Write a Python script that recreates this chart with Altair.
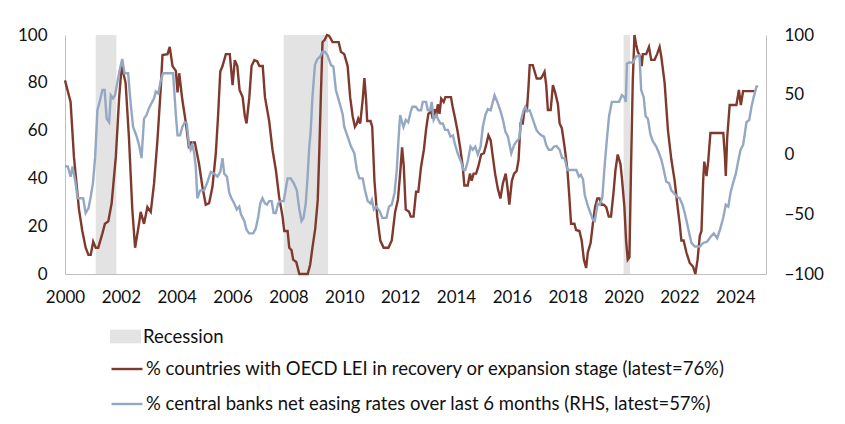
import altair as alt
import pandas as pd

# ---------------- data ----------------
brown_t = [2000.00, 2000.20, 2000.32, 2000.50, 2000.62, 2000.74, 2000.84, 2000.92, 2001.01, 2001.10,
           2001.19, 2001.34, 2001.43, 2001.55, 2001.67, 2001.82, 2001.94, 2002.03, 2002.17, 2002.29,
           2002.41, 2002.51, 2002.65, 2002.71, 2002.83, 2002.95, 2003.07, 2003.19, 2003.31, 2003.43,
           2003.49, 2003.67, 2003.75, 2003.85, 2003.97, 2004.03, 2004.09, 2004.20, 2004.33, 2004.44,
           2004.50, 2004.65, 2004.80, 2004.92, 2005.04, 2005.16, 2005.28, 2005.40, 2005.48, 2005.56,
           2005.64, 2005.76, 2005.90, 2006.00, 2006.08, 2006.17, 2006.25, 2006.36, 2006.44, 2006.50,
           2006.60, 2006.68, 2006.78, 2006.88, 2006.96, 2007.08, 2007.16, 2007.31, 2007.43, 2007.55,
           2007.67, 2007.79, 2007.85, 2007.97, 2008.03, 2008.11, 2008.17, 2008.28, 2008.39, 2008.69,
           2008.78, 2008.86, 2008.96, 2009.05, 2009.10, 2009.16, 2009.22, 2009.30, 2009.38, 2009.46,
           2009.58, 2009.80, 2009.88, 2010.00, 2010.12, 2010.21, 2010.30, 2010.38, 2010.45, 2010.50,
           2010.57, 2010.66, 2010.72, 2010.78, 2010.82, 2010.94, 2011.00, 2011.08, 2011.18, 2011.29,
           2011.41, 2011.58, 2011.70, 2011.82, 2011.92, 2012.00, 2012.07, 2012.13, 2012.20, 2012.32,
           2012.38, 2012.48, 2012.57, 2012.65, 2012.75, 2012.85, 2012.93, 2013.01, 2013.11, 2013.17,
           2013.23, 2013.29, 2013.35, 2013.41, 2013.47, 2013.56, 2013.62, 2013.82, 2013.88, 2013.97,
           2014.06, 2014.16, 2014.24, 2014.30, 2014.42, 2014.50, 2014.56, 2014.63, 2014.72, 2014.80,
           2014.90, 2015.00, 2015.08, 2015.16, 2015.24, 2015.32, 2015.40, 2015.50, 2015.59, 2015.68,
           2015.78, 2015.84, 2015.91, 2016.00, 2016.08, 2016.17, 2016.24, 2016.31, 2016.39, 2016.45,
           2016.54, 2016.60, 2016.64, 2016.75, 2016.89, 2017.03, 2017.08, 2017.17, 2017.23, 2017.29,
           2017.39, 2017.47, 2017.55, 2017.65, 2017.71, 2017.79, 2017.89, 2017.99, 2018.06, 2018.12,
           2018.24, 2018.30, 2018.42, 2018.50, 2018.58, 2018.66, 2018.72, 2018.82, 2018.90, 2018.98,
           2019.06, 2019.14, 2019.22, 2019.29, 2019.38, 2019.47, 2019.55, 2019.64, 2019.71, 2019.79,
           2019.89, 2019.95, 2020.03, 2020.09, 2020.15, 2020.21, 2020.27, 2020.33, 2020.39, 2020.45,
           2020.51, 2020.60, 2020.65, 2020.69, 2020.81, 2020.91, 2020.99, 2021.11, 2021.20, 2021.29,
           2021.35, 2021.47, 2021.59, 2021.71, 2021.83, 2021.92, 2022.01, 2022.07, 2022.15, 2022.25,
           2022.37, 2022.49, 2022.57, 2022.65, 2022.73, 2022.79, 2022.85, 2022.89, 2022.97, 2023.03,
           2023.11, 2023.57, 2023.63, 2023.66, 2023.71, 2023.80, 2024.04, 2024.13, 2024.20, 2024.28,
           2024.73]
brown_v = [81, 72, 49, 27, 18, 11, 8, 8, 13.5, 11,
           11, 17, 21, 22, 29.6, 49, 74, 87, 80, 57,
           27, 11, 21, 26, 21, 28, 26, 38, 56, 78,
           91.6, 92, 95, 87, 85, 76, 84, 73, 63, 52.6,
           55, 55, 46, 36.5, 29, 29.6, 36.5, 50.5, 66, 84.7,
           87, 92, 92, 79, 89.5, 87, 77, 74, 66, 63,
           74, 87, 89.5, 89, 87, 87, 74, 64, 52, 43.5,
           32, 24, 18, 18, 11, 10, 6, 5, 0, 0,
           4, 11, 19, 31, 49, 74, 97, 98, 100, 99.6,
           97, 97, 93, 92, 87, 74, 66, 61.6, 63, 65,
           63, 73, 82, 73, 64, 64, 61.6, 39, 24, 14,
           11, 11, 14, 26, 31, 42, 53, 45, 27, 26,
           24, 24, 34.4, 34.4, 45, 52, 60.6, 67, 68, 65,
           69, 66, 71, 67, 73.4, 72, 74, 74, 70, 65,
           59.5, 52, 45, 37, 37, 42, 39, 42, 42, 45,
           50, 50.6, 54, 58, 56, 49, 42, 35.6, 31.6, 38,
           42, 36.5, 29, 39, 42, 43, 47.7, 63, 63, 68.6,
           68.6, 79, 87.4, 87.4, 81.8, 81.8, 82.5, 84.6, 79, 68.6,
           68.6, 79, 76, 71, 63, 61, 53, 43.5, 32, 21,
           21, 18.4, 18, 14, 6, 2.5, 9, 13, 21, 28,
           31.6, 31.6, 29, 29, 28, 24, 24, 34, 43.5, 50,
           46, 39, 28, 14, 6, 7, 46, 81, 100, 96,
           93, 91, 87, 92, 92, 95, 89.6, 89.6, 92, 95,
           91, 80, 60, 48, 39, 29.6, 21, 14, 14, 9,
           4.6, 3, 0, 6, 16, 18, 39, 47, 41, 47,
           59, 59, 49, 41, 57, 70.7, 70.7, 77, 70.7, 76.5,
           76.5]

blue_t = [2000.00, 2000.10, 2000.20, 2000.27, 2000.37, 2000.45, 2000.65, 2000.74, 2000.84, 2000.92,
          2001.00, 2001.08, 2001.16, 2001.24, 2001.34, 2001.42, 2001.49, 2001.58, 2001.64, 2001.72,
          2001.79, 2001.87, 2001.97, 2002.05, 2002.13, 2002.26, 2002.35, 2002.44, 2002.56, 2002.65,
          2002.74, 2002.83, 2002.92, 2003.01, 2003.10, 2003.19, 2003.25, 2003.34, 2003.43, 2003.51,
          2003.87, 2003.97, 2004.03, 2004.12, 2004.20, 2004.29, 2004.36, 2004.44, 2004.50, 2004.56,
          2004.62, 2004.68, 2004.74, 2004.84, 2004.98, 2005.10, 2005.22, 2005.34, 2005.46, 2005.56,
          2005.64, 2005.70, 2005.80, 2005.88, 2005.96, 2006.06, 2006.15, 2006.24, 2006.30, 2006.42,
          2006.50, 2006.59, 2006.74, 2006.83, 2006.92, 2006.99, 2007.07, 2007.16, 2007.23, 2007.31,
          2007.40, 2007.47, 2007.55, 2007.63, 2007.71, 2007.83, 2007.91, 2007.97, 2008.08, 2008.19,
          2008.30, 2008.39, 2008.47, 2008.54, 2008.62, 2008.68, 2008.74, 2008.80, 2008.86, 2008.95,
          2009.04, 2009.14, 2009.22, 2009.30, 2009.40, 2009.52, 2009.61, 2009.70, 2009.82, 2009.94,
          2010.00, 2010.12, 2010.24, 2010.36, 2010.45, 2010.54, 2010.66, 2010.74, 2010.84, 2010.94,
          2010.99, 2011.06, 2011.15, 2011.27, 2011.36, 2011.51, 2011.60, 2011.70, 2011.80, 2011.88,
          2011.94, 2012.00, 2012.07, 2012.12, 2012.20, 2012.29, 2012.38, 2012.44, 2012.56, 2012.65,
          2012.75, 2012.81, 2012.93, 2012.99, 2013.07, 2013.13, 2013.20, 2013.29, 2013.37, 2013.44,
          2013.53, 2013.61, 2013.71, 2013.80, 2013.89, 2013.97, 2014.06, 2014.18, 2014.27, 2014.33,
          2014.42, 2014.52, 2014.60, 2014.69, 2014.78, 2014.88, 2014.96, 2015.05, 2015.14, 2015.24,
          2015.32, 2015.38, 2015.48, 2015.60, 2015.68, 2015.77, 2015.86, 2015.98, 2016.08, 2016.17,
          2016.27, 2016.33, 2016.42, 2016.48, 2016.55, 2016.64, 2016.70, 2016.80, 2016.88, 2016.96,
          2017.06, 2017.15, 2017.23, 2017.32, 2017.42, 2017.51, 2017.60, 2017.71, 2017.80, 2017.89,
          2017.99, 2018.31, 2018.40, 2018.47, 2018.55, 2018.61, 2018.73, 2018.83, 2018.91, 2018.97,
          2019.07, 2019.15, 2019.24, 2019.31, 2019.40, 2019.48, 2019.58, 2019.84, 2019.94, 2020.03,
          2020.08, 2020.12, 2020.19, 2020.33, 2020.45, 2020.57, 2020.63, 2020.72, 2020.79, 2020.87,
          2020.96, 2021.05, 2021.17, 2021.27, 2021.35, 2021.44, 2021.53, 2021.63, 2021.71, 2021.83,
          2021.92, 2022.01, 2022.11, 2022.19, 2022.25, 2022.35, 2022.43, 2022.55, 2022.73, 2022.85,
          2022.99, 2023.11, 2023.23, 2023.35, 2023.45, 2023.57, 2023.66, 2023.75, 2023.83, 2023.92,
          2024.02, 2024.10, 2024.19, 2024.28, 2024.34, 2024.40, 2024.50, 2024.58, 2024.66, 2024.76,
          2024.82]
blue_v = [-9.6, -10, -18.6, -10, -22.8, -36.6, -36.6, -49, -45, -35.6,
          -24, -2, 37, 44, 54, 54, 30, 27, 49.6, 47,
          49.6, 59.6, 72, 80, 68, 68, 43, 23, 15.5, 8,
          -3, 30, 33, 39, 43, 47, 52.6, 51, 62, 68,
          68, 33, 16, 16, 23, 27, 26, 8, 4, 8,
          2, -10, -36.6, -30, -30, -23, -14.6, -16, -18.6, -14.6,
          -3, -16, -18.6, -32, -36.6, -41, -46, -43.6, -50, -55.6,
          -63, -66, -66, -62, -52, -41, -36.6, -41, -42, -39,
          -39, -49, -49, -41, -39, -39, -28, -20, -20, -24,
          -30, -46, -55.6, -53, -41, -21, 4, 20.6, 48, 75,
          80, 82, 86, 86, 83, 75, 73.5, 54, 44, 34,
          23, 15, 6.6, 1, -13, -20, -20, -30, -39, -41,
          -38, -46, -43.6, -47.6, -53, -53, -43.6, -42, -32, -13,
          12, 33, 27, 23, 29, 27, 36, 40, 40, 37,
          37, 44, 44, 37, 37, 44, 29, 33, 29, 26,
          26, 20.6, 20.6, 15, 16, 8, 1, -6, -13, -13,
          -6, 6.6, 4, 6.6, 0, 6.6, 23, 33, 38, 37,
          44, 49.6, 44, 36, 29, 19, 15, 1, 8, 11,
          13.6, 29, 37, 40, 36, 37, 33, 26, 20.6, 18,
          16, 15, 8, 4, 4, 6.6, 7, 4, -3, -3,
          -13, -13, -18.6, -17, -21, -34, -43.6, -50, -55, -55.6,
          -41, -42, -36, -13, 12, 32, 44, 44, 49.6, 48,
          44, 76, 77, 77, 82, 83, 54, 48, 32, 30,
          17, 11, 6.6, 1, -4, -13, -22.8, -24, -30, -33,
          -35.6, -36.6, -42, -49, -55, -66, -74, -77, -77, -74,
          -73, -69, -66, -70, -63, -53, -42, -43.6, -32, -24,
          -16, -6, 4, 8, 17, 27, 29, 40, 48, 57,
          57]

rec_start = [2001.10, 2007.83, 2020.00]
rec_end = [2001.84, 2009.42, 2020.23]

brown_label = "% countries with OECD LEI in recovery or expansion stage (latest=76%)"
blue_label = "% central banks net easing rates over last 6 months (RHS, latest=57%)"

x_ticks = list(range(2000, 2025, 2))
left_ticks = [0, 20, 40, 60, 80, 100]
right_ticks = [-100, -50, 0, 50, 100]

BROWN = "#7f392d"
BLUE = "#94a8c3"
GRAY = "#e3e3e3"
AXIS = "#bfbfbf"
FONT = "Lato"
TXT = "#111111"

# ---------------- tables ----------------
brown_df = pd.DataFrame({"t": brown_t, "v": brown_v, "series": brown_label})
blue_df = pd.DataFrame({"t": blue_t, "v": blue_v, "series": blue_label})
rec_df = pd.DataFrame({"s": rec_start, "e": rec_end, "kind": "Recession"})

W, H = 701, 239

xscale = alt.Scale(domain=[2000, 2025.1], nice=False, zero=False)
xaxis = alt.Axis(values=x_ticks, format="d", title=None, grid=False, ticks=False,
                 domainColor=AXIS, labelPadding=15, labelFontSize=17, labelFont=FONT,
                 labelColor=TXT, labelOverlap=False, labelFlush=False)

stroke_scale = alt.Scale(domain=[brown_label, blue_label], range=[BROWN, BLUE])

recession = alt.Chart(rec_df).mark_rect(color=GRAY).encode(
    x=alt.X("s:Q", scale=xscale, axis=xaxis),
    x2="e:Q",
    y=alt.datum(100),
    y2=alt.datum(0),
    fill=alt.Fill("kind:N", scale=alt.Scale(domain=["Recession"], range=[GRAY]),
                  legend=alt.Legend(title=None, orient="none", legendX=45, legendY=286,
                                    symbolType="M-1,-0.44h2v0.88h-2z", symbolSize=961,
                                    symbolStrokeWidth=0, labelFontSize=18.5, labelFont=FONT,
                                    labelColor=TXT, labelOffset=2, labelLimit=900)),
)

left_line = alt.Chart(brown_df).mark_line(strokeWidth=2.4).encode(
    x=alt.X("t:Q", scale=xscale, axis=xaxis),
    y=alt.Y("v:Q", scale=alt.Scale(domain=[0, 100], nice=False),
            axis=alt.Axis(values=left_ticks, title=None, grid=False, ticks=False,
                          domainColor=AXIS, labelPadding=18, labelFontSize=17,
                          labelFont=FONT, labelColor=TXT, orient="left")),
    stroke=alt.Stroke("series:N", scale=stroke_scale,
                      legend=alt.Legend(title=None, orient="none", legendX=45, legendY=317,
                                        symbolType="stroke", symbolSize=961,
                                        symbolStrokeWidth=2.4, rowPadding=8,
                                        labelFontSize=18.5, labelFont=FONT,
                                        labelColor=TXT, labelOffset=2, labelLimit=900)),
)

right_line = alt.Chart(blue_df).mark_line(strokeWidth=2.4).encode(
    x=alt.X("t:Q", scale=xscale, axis=xaxis),
    y=alt.Y("v:Q", scale=alt.Scale(domain=[-100, 100], nice=False),
            axis=alt.Axis(values=right_ticks, title=None, grid=False, ticks=False,
                          domainColor=AXIS, labelPadding=18, labelFontSize=17,
                          labelFont=FONT, labelColor=TXT, orient="right")),
    stroke=alt.Stroke("series:N", scale=stroke_scale, legend=None),
)

left = alt.layer(recession, left_line)

chart = alt.layer(left, right_line).resolve_scale(y="independent").properties(
    width=W, height=H,
    autosize=alt.AutoSizeParams(type="none"),
    padding={"left": 57, "top": 27, "right": 70, "bottom": 147},
).configure_view(stroke=None).configure_axis(domainWidth=1)

chart.save("out.html", embed_options={"renderer": "svg", "actions": False})
